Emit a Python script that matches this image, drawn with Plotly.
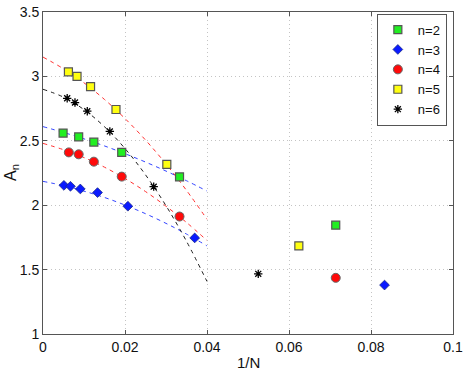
import plotly.graph_objects as go

# Data points (x = 1/N, y = A_n)
x_n2 = [0.0049, 0.0087, 0.0124, 0.0192, 0.0333, 0.0714]
y_n2 = [2.56, 2.53, 2.49, 2.41, 2.22, 1.845]
x_n3 = [0.0051, 0.0067, 0.0091, 0.0133, 0.0207, 0.0370, 0.0833]
y_n3 = [2.154, 2.147, 2.126, 2.098, 1.992, 1.746, 1.38]
x_n4 = [0.0063, 0.0087, 0.0124, 0.0192, 0.0333, 0.0714]
y_n4 = [2.41, 2.395, 2.338, 2.222, 1.912, 1.436]
x_n5 = [0.0062, 0.0083, 0.0116, 0.0178, 0.0302, 0.0624]
y_n5 = [3.035, 3.0, 2.92, 2.743, 2.317, 1.684]
x_n6 = [0.0059, 0.0078, 0.0108, 0.0163, 0.0270, 0.0525]
y_n6 = [2.83, 2.797, 2.73, 2.573, 2.144, 1.467]

# Dashed fit curves
x_fit = [0.0, 0.005, 0.01, 0.015, 0.02, 0.025, 0.03, 0.035, 0.04]
fit_n2 = [2.61, 2.565, 2.515, 2.460, 2.400, 2.335, 2.265, 2.190, 2.110]
fit_n3 = [2.185, 2.152, 2.109, 2.060, 2.001, 1.934, 1.859, 1.776, 1.684]
fit_n4 = [2.48, 2.431, 2.370, 2.295, 2.207, 2.106, 1.992, 1.866, 1.726]
fit_n5 = [3.15, 3.059, 2.950, 2.821, 2.673, 2.506, 2.320, 2.115, 1.891]
fit_n6 = [2.90, 2.839, 2.742, 2.609, 2.440, 2.236, 1.996, 1.720, 1.408]

x_ticks = [0, 0.02, 0.04, 0.06, 0.08, 0.1]
x_tick_labels = ["0", "0.02", "0.04", "0.06", "0.08", "0.1"]
y_ticks = [1, 1.5, 2, 2.5, 3, 3.5]
y_tick_labels = ["1", "1.5", "2", "2.5", "3", "3.5"]

fig = go.Figure()

fits = [(fit_n2, "#3344ff"), (fit_n3, "#3344ff"), (fit_n4, "#ff3030"),
        (fit_n5, "#ff3030"), (fit_n6, "#222222")]
for fy, col in fits:
    fig.add_trace(go.Scatter(x=x_fit, y=fy, mode="lines", showlegend=False,
                             line=dict(color=col, width=1, dash="4px,4px", shape="spline"),
                             hoverinfo="skip"))

fig.add_trace(go.Scatter(x=x_n2, y=y_n2, mode="markers", name="n=2",
                         marker=dict(symbol="square", size=8, color="#22ee22",
                                     line=dict(color="#555555", width=1.2))))
fig.add_trace(go.Scatter(x=x_n3, y=y_n3, mode="markers", name="n=3",
                         marker=dict(symbol="diamond", size=7.5, color="#0a1aff",
                                     line=dict(color="#1a2a88", width=0.8))))
fig.add_trace(go.Scatter(x=x_n4, y=y_n4, mode="markers", name="n=4",
                         marker=dict(symbol="circle", size=9, color="#ff0a0a",
                                     line=dict(color="#666666", width=1))))
fig.add_trace(go.Scatter(x=x_n5, y=y_n5, mode="markers", name="n=5",
                         marker=dict(symbol="square", size=8, color="#ffff11",
                                     line=dict(color="#555555", width=1.2))))
fig.add_trace(go.Scatter(x=x_n6, y=y_n6, mode="markers", name="n=6",
                         marker=dict(symbol="asterisk-open", size=7, color="#000000",
                                     line=dict(color="#000000", width=1.3))))

font = "Liberation Sans, Arial, Helvetica, sans-serif"
axis_common = dict(showline=True, linecolor="#555555", linewidth=1, mirror="ticks",
                   ticks="inside", ticklen=4, tickcolor="#555555",
                   showgrid=True, gridcolor="#c4c4c4", griddash="1px,3px", gridwidth=1,
                   zeroline=False, automargin=False,
                   tickfont=dict(family=font, size=14, color="#111111"))

fig.update_layout(
    width=471, height=372,
    margin=dict(l=43, r=18, t=12, b=38),
    paper_bgcolor="white", plot_bgcolor="white",
    font=dict(family=font, color="#111111"),
    xaxis=dict(range=[0, 0.1], tickvals=x_ticks, ticktext=x_tick_labels, **axis_common),
    yaxis=dict(range=[1, 3.5], tickvals=y_ticks, ticktext=y_tick_labels, **axis_common),
    legend=dict(x=0.985, y=0.995, xanchor="right", yanchor="top",
                bgcolor="white", bordercolor="#555555", borderwidth=1,
                font=dict(family=font, size=13, color="#111111"),
                tracegroupgap=0, itemwidth=30),
    showlegend=True,
    annotations=[
        dict(text="1/N", xref="paper", yref="paper", x=0.5, y=0, yshift=-28,
             xanchor="center", yanchor="middle", showarrow=False,
             font=dict(family=font, size=15, color="#111111")),
        dict(text="A<sub>n</sub>", xref="paper", yref="paper", x=0, xshift=-32, y=0.5,
             xanchor="center", yanchor="middle", showarrow=False, textangle=-90,
             font=dict(family=font, size=16, color="#111111")),
    ],
)

fig.write_html("out.html", config={"displayModeBar": False},
               post_script="document.body.style.margin='0';")
